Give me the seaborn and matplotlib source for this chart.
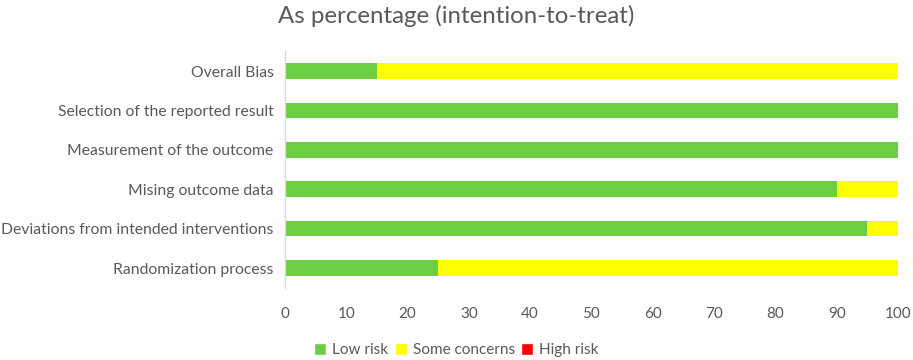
import matplotlib
matplotlib.use("Agg")
import matplotlib.pyplot as plt
import seaborn as sns
import pandas as pd
from matplotlib.patches import Patch

categories = ["Overall Bias", "Selection of the reported result", "Measurement of the outcome",
              "Mising outcome data", "Deviations from intended interventions", "Randomization process"]
low_risk = [15, 100, 100, 90, 95, 25]
some_concerns = [85, 0, 0, 10, 5, 75]
high_risk = [0, 0, 0, 0, 0, 0]
ticks = [0, 10, 20, 30, 40, 50, 60, 70, 80, 90, 100]

GREEN = "#6CCF43"
YELLOW = "#FFFF00"
RED = "#FF0000"
TXT = "#595959"

sns.set_theme(style="white")
plt.rcParams['font.family'] = ['Lato', 'DejaVu Sans']

df = pd.DataFrame({"cat": categories, "low": low_risk, "some": some_concerns, "high": high_risk})
df["c2"] = df["low"] + df["some"]
df["c3"] = df["c2"] + df["high"]

fig = plt.figure(figsize=(9.13, 3.6), dpi=100)
ax = fig.add_axes([0.312, 0.2008, 0.6716, 0.6567])

sns.barplot(data=df, y="cat", x="c3", color=RED, orient="h", width=0.4, ax=ax, saturation=1, linewidth=0)
sns.barplot(data=df, y="cat", x="c2", color=YELLOW, orient="h", width=0.4, ax=ax, saturation=1, linewidth=0)
sns.barplot(data=df, y="cat", x="low", color=GREEN, orient="h", width=0.4, ax=ax, saturation=1, linewidth=0)

ax.set_xlim(0, 100)
ax.set_ylim(5.5, -0.5)
ax.set_xticks(ticks)
ax.set_xlabel("")
ax.set_ylabel("")
for s in ["top", "right", "bottom"]:
    ax.spines[s].set_visible(False)
ax.spines["left"].set_color("#D9D9D9")
ax.spines["left"].set_linewidth(1)
ax.tick_params(axis="both", length=0, colors=TXT)
ax.tick_params(axis="x", pad=14, labelsize=11)
ax.tick_params(axis="y", pad=8, labelsize=11.3)

fig.text(0.5, 0.955, "As percentage (intention-to-treat)", ha="center", va="center",
         fontsize=17.3, color=TXT)

handles = [Patch(facecolor=GREEN, label="Low risk"),
           Patch(facecolor=YELLOW, label="Some concerns"),
           Patch(facecolor=RED, label="High risk")]
leg = fig.legend(handles=handles, loc="center", bbox_to_anchor=(0.5, 0.028), ncol=3, frameon=False,
                 fontsize=11, handlelength=0.8, handleheight=0.8, handletextpad=0.4, columnspacing=0.4,
                 labelcolor=TXT)

fig.savefig("out.png", dpi=100)
